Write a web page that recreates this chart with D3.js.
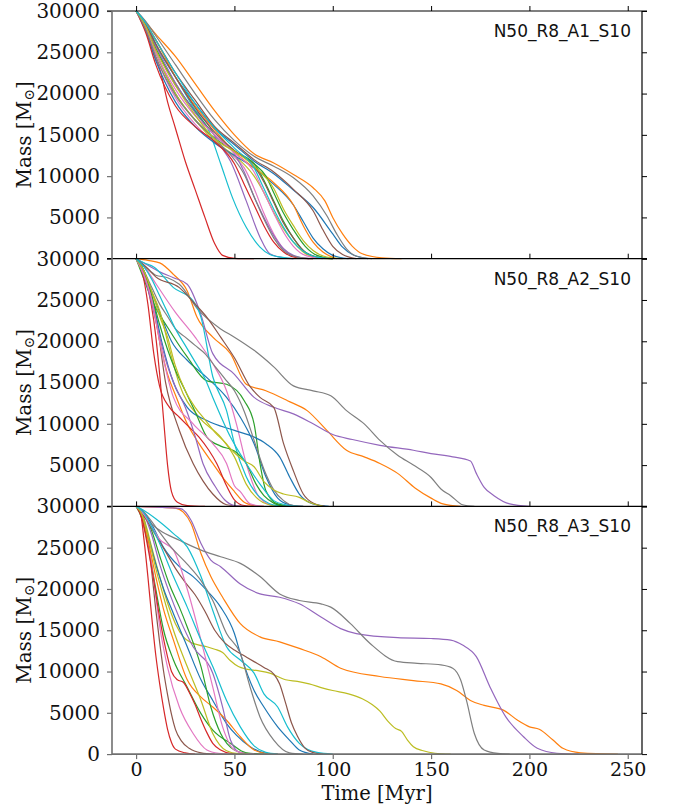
<!DOCTYPE html>
<html>
<head>
<meta charset="utf-8">
<script src="https://cdn.jsdelivr.net/npm/d3@7"></script>
<style>
  body { margin: 0; background: #fff; }
  svg { display: block; }
</style>
</head>
<body>
<div id="chart"></div>
<script>
// ---- data: [time Myr, mass Msun] ----

const runLabels = ["N50_R8_A1_S10", "N50_R8_A2_S10", "N50_R8_A3_S10"];
const xTicks = [0, 50, 100, 150, 200, 250];
const yTicks = [0, 5000, 10000, 15000, 20000, 25000, 30000];

// A1
const a1_blue1   = [[0,30000],[5,28600],[10,26000],[20,22000],[30,18800],[40,15800],[50,13800],[60,11800],[70,10300],[80,8300],[90,6200],[100,3000],[105,1400],[110,500],[118,0]];
const a1_orange1 = [[0,30000],[5,28600],[10,27200],[20,24500],[30,21200],[40,17900],[50,15000],[60,12700],[70,11600],[80,10200],[90,8600],[96,7000],[100,5000],[105,3000],[110,1500],[115,600],[125,100],[135,0]];
const a1_green1  = [[0,30000],[5,28000],[10,25000],[20,20000],[30,16800],[40,14600],[50,13000],[60,11500],[65,9500],[70,7000],[75,4500],[80,2500],[85,1000],[92,200],[100,0]];
const a1_red1    = [[0,30000],[4,28500],[8,25500],[12,23000],[16,19000],[20,15800],[25,11800],[30,8400],[35,5000],[40,1800],[44,400],[50,50],[60,0]];
const a1_purple1 = [[0,30000],[5,28300],[10,25500],[20,21000],[30,18000],[36,16500],[42,14000],[48,11800],[56,7000],[63,2600],[68,600],[75,100],[80,0]];
const a1_brown1  = [[0,30000],[5,28500],[10,26500],[20,22500],[30,19200],[40,16000],[50,14000],[60,12000],[70,10500],[80,8400],[90,5800],[95,3500],[100,1500],[105,500],[112,0]];
const a1_pink1   = [[0,30000],[5,27800],[10,24500],[20,19500],[30,16300],[40,14000],[50,12300],[55,11000],[60,8500],[65,5500],[70,3000],[75,1200],[80,300],[88,0]];
const a1_gray1   = [[0,30000],[5,28700],[10,27000],[20,23500],[30,20000],[40,16800],[50,14300],[60,12400],[70,11200],[80,9800],[90,7600],[97,5200],[102,3000],[107,1200],[112,300],[120,0]];
const a1_olive1  = [[0,30000],[5,28000],[10,25000],[20,20000],[30,16800],[40,14200],[50,12500],[60,10000],[65,8000],[70,5600],[75,3600],[80,2000],[85,800],[92,100],[100,0]];
const a1_cyan1   = [[0,30000],[5,28400],[10,26000],[20,22000],[30,18000],[37,15500],[43,11500],[49,7400],[56,3800],[63,1400],[68,500],[72,250],[80,0]];
const a1_blue2   = [[0,30000],[5,27500],[10,24000],[20,19000],[30,16000],[40,14000],[50,12500],[60,11000],[70,9000],[80,6500],[85,4500],[90,2500],[95,1200],[100,400],[108,0]];
const a1_orange2 = [[0,30000],[5,28400],[10,26500],[20,22000],[30,18500],[40,15600],[50,12900],[60,11000],[70,9200],[80,6500],[85,4000],[90,2000],[95,800],[102,0]];
const a1_green2  = [[0,30000],[5,28100],[10,25500],[20,21200],[30,17800],[40,15000],[50,13000],[60,11500],[66,10000],[70,8000],[75,5500],[80,3500],[86,1500],[92,400],[100,0]];
const a1_red2    = [[0,30000],[5,27300],[10,23500],[20,18500],[30,16000],[40,14200],[50,11500],[55,9000],[60,6500],[65,4000],[70,2000],[75,800],[82,100],[90,0]];
const a1_purple2 = [[0,30000],[5,28200],[10,25800],[20,21300],[30,17700],[40,14900],[50,12700],[55,10500],[60,7500],[65,5000],[70,2800],[75,1200],[80,400],[88,0]];
const a1_brown2  = [[0,30000],[5,28300],[10,26000],[20,22000],[30,18300],[40,15300],[50,13100],[60,11200],[65,9300],[70,6800],[75,4300],[80,2500],[85,1000],[92,200],[100,0]];
const a1_pink2   = [[0,30000],[5,28000],[10,25000],[20,20500],[30,17300],[40,15000],[50,12800],[60,10500],[65,8000],[70,5500],[75,3200],[80,1500],[86,400],[95,0]];
const a1_gray2   = [[0,30000],[5,27700],[10,24500],[20,19800],[30,16800],[40,14500],[50,12000],[55,10200],[60,7500],[65,4800],[70,2500],[75,1000],[82,200],[90,0]];
const a1_olive2  = [[0,30000],[5,28100],[10,25300],[20,21000],[30,17400],[40,14500],[50,13000],[60,11200],[70,8500],[75,6000],[80,4000],[85,2200],[90,1000],[97,200],[105,0]];
const a1_cyan2   = [[0,30000],[5,28500],[10,26500],[20,22500],[30,18800],[40,15800],[50,13400],[60,11000],[65,8500],[70,6000],[75,3800],[80,2000],[85,900],[92,200],[100,0]];

// A2
const a2_blue1   = [[0,30000],[4,28500],[8,26000],[12,23500],[18,20000],[26,17700],[36,15600],[46,13200],[53,10800],[60,7600],[66,3600],[72,1000],[78,200],[85,0]];
const a2_orange1 = [[0,30000],[6,29800],[12,29500],[19,28100],[26,26100],[31,22900],[39,20500],[48,18500],[56,14800],[66,14000],[77,12800],[87,11600],[97,9200],[107,6800],[116,6000],[124,5200],[133,4000],[142,2200],[150,1000],[156,300],[165,0]];
const a2_green1  = [[0,30000],[4,27500],[9,24500],[16,21700],[26,18100],[36,15200],[46,14800],[55,12800],[60,10000],[63,5200],[66,1900],[72,300],[80,0]];
const a2_red1    = [[0,30000],[3,29000],[6,26500],[9,22500],[12,16000],[14,10500],[16,5000],[18,1800],[21,500],[26,100],[35,0]];
const a2_purple1 = [[0,30000],[6,29200],[12,28400],[19,27700],[26,26900],[33,23200],[39,18500],[50,16000],[60,13200],[70,12000],[80,11200],[90,10000],[100,8700],[110,8100],[124,7400],[141,6800],[150,6400],[161,6000],[170,5500],[173,4000],[177,2300],[182,1300],[190,300],[200,0]];
const a2_brown1  = [[0,30000],[3,28500],[6,26500],[10,23000],[15,15000],[22,9200],[29,5200],[34,3100],[39,1500],[46,200],[55,0]];
const a2_pink1   = [[0,30000],[5,28800],[10,27000],[20,23500],[30,20500],[39,17300],[46,14000],[51,10000],[56,5200],[63,1000],[70,100],[78,0]];
const a2_gray1   = [[0,30000],[5,29000],[10,28000],[16,27700],[22,26900],[32,23700],[43,21500],[50,20500],[60,18900],[70,16900],[80,14600],[90,14000],[99,13400],[107,11600],[116,10000],[124,8000],[133,6200],[141,5000],[150,3500],[155,2100],[160,1300],[166,200],[172,0]];
const a2_olive1  = [[0,30000],[4,28000],[8,26000],[12,23700],[17,19000],[22,14800],[32,10800],[43,8400],[50,6000],[56,2700],[63,700],[70,100],[78,0]];
const a2_cyan1   = [[0,30000],[4,29500],[9,29000],[19,26500],[29,24900],[33,22900],[39,15700],[46,11600],[50,7600],[56,3600],[63,1100],[72,100],[80,0]];
const a2_blue2   = [[0,30000],[4,28500],[8,25500],[13,20000],[19,15000],[26,12000],[36,10400],[50,9200],[60,8400],[66,7600],[73,6000],[78,3600],[83,1500],[90,300],[98,0]];
const a2_orange2 = [[0,30000],[4,28500],[8,25000],[12,20000],[16,16000],[20,13500],[26,10000],[32,7600],[39,5200],[45,3200],[50,1800],[55,500],[60,100],[65,0]];
const a2_green2  = [[0,30000],[4,28500],[8,25500],[12,22000],[16,19000],[20,16500],[25,14000],[30,11500],[36,8400],[43,7300],[50,6700],[56,5200],[61,2700],[65,1300],[70,400],[76,0]];
const a2_red2    = [[0,30000],[3,28500],[6,24500],[9,18500],[12,14500],[17,12000],[22,10800],[27,9600],[32,8400],[37,6800],[41,5200],[46,2500],[50,800],[55,100],[60,0]];
const a2_purple2 = [[0,30000],[4,28000],[8,24500],[12,20500],[16,17000],[20,14500],[25,12000],[30,8500],[34,5200],[40,2500],[45,800],[50,100],[55,0]];
const a2_brown2  = [[0,30000],[5,29000],[10,27800],[22,26500],[30,24500],[36,22900],[43,20500],[50,18000],[58,14500],[63,13200],[70,12000],[75,7600],[80,4300],[85,1500],[90,400],[96,0]];
const a2_pink2   = [[0,30000],[4,28000],[8,25000],[12,20000],[19,13200],[29,10000],[39,7600],[46,5200],[50,2500],[53,1800],[58,300],[65,0]];
const a2_gray2   = [[0,30000],[4,28500],[8,26500],[12,24500],[16,23000],[20,21500],[25,20500],[30,19500],[35,18500],[40,17000],[45,15500],[50,14000],[55,11500],[60,8000],[65,4500],[70,2000],[75,700],[80,100],[85,0]];
const a2_olive2  = [[0,30000],[4,28500],[8,26000],[12,23000],[16,20500],[20,17000],[25,14000],[30,12000],[35,10500],[40,9000],[45,7800],[50,6500],[55,5500],[60,4800],[65,3000],[70,2000],[75,1500],[83,1100],[88,500],[95,0]];
const a2_cyan2   = [[0,30000],[4,29000],[8,27500],[12,25500],[16,23500],[20,21500],[25,19500],[30,17500],[35,15500],[39,13200],[48,8400],[56,5200],[63,2700],[70,700],[76,200],[82,0]];

// A3
const a3_blue1   = [[0,30000],[4,29300],[8,27800],[14,25000],[22,22700],[29,21500],[36,19800],[43,17800],[50,14600],[53,12200],[60,7700],[65,5700],[72,3300],[78,1700],[83,500],[90,0]];
const a3_orange1 = [[0,30000],[10,29900],[20,29800],[24,29300],[28,27900],[33,24300],[38,21500],[44,19000],[53,15800],[63,14200],[73,13600],[83,12800],[94,11800],[104,10400],[124,9400],[141,8900],[155,8500],[163,7700],[170,6500],[177,5900],[187,5300],[194,4100],[200,3300],[205,3000],[212,1700],[217,700],[226,160],[245,0]];
const a3_green1  = [[0,30000],[3,28500],[6,25500],[10,20000],[14,15000],[19,11400],[26,8100],[33,4900],[39,2900],[48,1300],[56,150],[65,0]];
const a3_red1    = [[0,30000],[2,29500],[4,26000],[6,21500],[8,16500],[10,12000],[12,8500],[14,5500],[16,3000],[18,1400],[20,600],[25,150],[30,0]];
const a3_purple1 = [[0,30000],[10,29900],[20,29800],[23,29700],[28,28300],[33,25500],[38,23500],[43,22700],[53,20600],[63,19400],[73,19000],[83,18200],[94,16600],[104,15200],[112,14600],[133,14100],[150,14000],[160,13800],[166,13200],[173,11800],[180,8100],[188,4500],[197,2100],[204,700],[214,100],[225,0]];
const a3_brown1  = [[0,30000],[2,29700],[4,28500],[6,26000],[8,22000],[10,17500],[12,13500],[14,10000],[16,7200],[18,4800],[20,3000],[23,1600],[27,700],[33,150],[40,0]];
const a3_pink1   = [[0,30000],[3,29000],[6,26000],[9,21000],[12,15500],[16,10500],[22,5700],[29,2500],[36,500],[42,100],[48,0]];
const a3_gray1   = [[0,30000],[5,28500],[12,27100],[22,25900],[33,24700],[43,23900],[53,23100],[63,21500],[73,19400],[83,18600],[94,18200],[99,17800],[109,15800],[119,13400],[133,11200],[143,11000],[155,10800],[161,10400],[165,9000],[168,6500],[172,2500],[177,500],[184,80],[190,0]];
const a3_olive1  = [[0,30000],[4,28500],[8,25000],[12,21500],[16,18300],[20,15800],[24,14200],[28,13500],[32,13200],[36,13000],[40,12700],[44,12300],[48,11300],[52,10600],[56,10300],[62,10100],[68,9800],[72,9400],[76,9000],[82,8800],[88,8500],[95,8000],[100,7700],[108,7300],[115,6700],[120,6000],[124,5200],[128,4000],[132,3100],[135,2750],[138,1700],[141,900],[146,400],[152,100],[160,0]];
const a3_cyan1   = [[0,30000],[4,29500],[10,28500],[19,26700],[26,25100],[33,21500],[39,17400],[46,13000],[53,11400],[60,9800],[65,7300],[72,5700],[77,3300],[83,1300],[92,200],[100,0]];
const a3_blue2   = [[0,30000],[3,29000],[6,26500],[10,23000],[14,20000],[19,17000],[26,13000],[33,9000],[39,6500],[46,3700],[51,2300],[58,900],[66,100],[72,0]];
const a3_orange2 = [[0,30000],[3,29000],[6,26000],[10,21500],[14,17500],[19,13800],[26,9000],[33,6900],[39,5700],[46,4100],[53,2100],[60,500],[66,100],[72,0]];
const a3_green2  = [[0,30000],[4,29000],[8,27000],[12,24000],[17,20500],[22,17800],[26,15400],[33,10600],[38,5700],[43,2500],[50,500],[56,100],[62,0]];
const a3_red2    = [[0,30000],[3,28500],[6,25000],[9,21000],[12,16500],[15,12800],[18,10000],[21,9000],[24,8700],[27,7500],[30,6000],[33,4200],[36,2600],[39,1300],[43,500],[48,100],[55,0]];
const a3_purple2 = [[0,30000],[4,29000],[8,26500],[12,23000],[17,19500],[22,16500],[29,13000],[39,9800],[44,5700],[48,1700],[53,150],[60,0]];
const a3_brown2  = [[0,30000],[5,28500],[10,26500],[15,24500],[20,22500],[25,20800],[30,19300],[35,17300],[40,15000],[45,13500],[50,12600],[55,11900],[60,11200],[65,10500],[70,9700],[73,8500],[76,6200],[79,3800],[82,2200],[86,700],[90,200],[95,0]];
const a3_pink2   = [[0,30000],[4,29000],[8,27500],[12,26000],[19,24700],[26,20000],[33,13800],[39,8100],[44,3300],[50,500],[55,100],[60,0]];
const a3_gray2   = [[0,30000],[4,29300],[10,27500],[18,25000],[26,23000],[33,21000],[39,18600],[46,14600],[53,12200],[58,8100],[63,4500],[70,1700],[78,150],[85,0]];
const a3_olive2  = [[0,30000],[3,29000],[6,26500],[10,22500],[14,19000],[19,15000],[26,10600],[33,6500],[39,2500],[46,400],[52,50],[58,0]];
const a3_cyan2   = [[0,30000],[4,29200],[8,27500],[12,25500],[19,21500],[26,17800],[33,13800],[39,10600],[46,6500],[53,3300],[60,1000],[66,200],[72,0]];

const panelA1 = [a1_blue1, a1_orange1, a1_green1, a1_red1, a1_purple1, a1_brown1, a1_pink1, a1_gray1, a1_olive1, a1_cyan1,
                 a1_blue2, a1_orange2, a1_green2, a1_red2, a1_purple2, a1_brown2, a1_pink2, a1_gray2, a1_olive2, a1_cyan2];
const panelA2 = [a2_blue1, a2_orange1, a2_green1, a2_red1, a2_purple1, a2_brown1, a2_pink1, a2_gray1, a2_olive1, a2_cyan1,
                 a2_blue2, a2_orange2, a2_green2, a2_red2, a2_purple2, a2_brown2, a2_pink2, a2_gray2, a2_olive2, a2_cyan2];
const panelA3 = [a3_blue1, a3_orange1, a3_green1, a3_red1, a3_purple1, a3_brown1, a3_pink1, a3_gray1, a3_olive1, a3_cyan1,
                 a3_blue2, a3_orange2, a3_green2, a3_red2, a3_purple2, a3_brown2, a3_pink2, a3_gray2, a3_olive2, a3_cyan2];
const panels = [panelA1, panelA2, panelA3];

// ---- layout ----
const W = 676, H = 806;
const plotLeft = 112, plotRight = 642, plotTop = 11, panelH = 247.7;
const spineGray = "#707070";
const serif = "DejaVu Serif", sans = "DejaVu Sans";

const svg = d3.select("#chart").append("svg")
    .attr("width", W)
    .attr("height", H);

const x = d3.scaleLinear().domain([-12.25, 257.25]).range([plotLeft, plotRight]);
const color = d3.scaleOrdinal().domain(d3.range(10)).range(d3.schemeCategory10);

panels.forEach(function(series, i) {
    const y0 = plotTop + i * panelH, y1 = y0 + panelH;
    const last = i === panels.length - 1;
    const y = d3.scaleLinear().domain([0, 30000]).range([y1, y0]);
    const g = svg.append("g");

    // lines
    const line = d3.line()
        .x(d => x(d[0]))
        .y(d => y(d[1]))
        .curve(d3.curveMonotoneX);

    g.selectAll("path.run")
        .data(series)
        .enter()
        .append("path")
        .attr("class", "run")
        .attr("d", line)
        .attr("fill", "none")
        .attr("stroke", (d, k) => color(k % 10))
        .attr("stroke-width", 1.2);

    // left axis (gray)
    const ya = g.append("g")
        .attr("transform", `translate(${plotLeft},0)`)
        .call(d3.axisLeft(y).tickValues(yTicks).tickSize(5).tickSizeOuter(0).tickPadding(7)
            .tickFormat(v => (v === 0 && !last) ? "" : d3.format("d")(v)));
    ya.select(".domain").remove();
    ya.selectAll(".tick line").attr("stroke", spineGray).attr("stroke-width", 1.2);
    ya.selectAll(".tick text").attr("fill", "#111").attr("font-family", serif).attr("font-size", 20);

    // right axis (black, no labels)
    const yr = g.append("g")
        .attr("transform", `translate(${plotRight},0)`)
        .call(d3.axisRight(y).tickValues(yTicks).tickSize(5).tickSizeOuter(0).tickFormat(""));
    yr.select(".domain").remove();
    yr.selectAll(".tick line").attr("stroke", "#000");

    // top ticks (black)
    const xt = g.append("g")
        .attr("transform", `translate(0,${y0})`)
        .call(d3.axisTop(x).tickValues(xTicks).tickSize(5).tickSizeOuter(0).tickFormat(""));
    xt.select(".domain").remove();
    xt.selectAll(".tick line").attr("stroke", "#000");

    // top spine
    g.append("line")
        .attr("x1", plotLeft - 5).attr("x2", plotRight + 5)
        .attr("y1", y0).attr("y2", y0)
        .attr("stroke", "#000").attr("stroke-width", 1.2);

    if (last) {
        const xb = g.append("g")
            .attr("transform", `translate(0,${y1})`)
            .call(d3.axisBottom(x).tickValues(xTicks).tickSize(5).tickSizeOuter(0).tickPadding(3));
        xb.select(".domain").remove();
        xb.selectAll(".tick line").attr("stroke", spineGray).attr("stroke-width", 1.2);
        xb.selectAll(".tick text").attr("fill", "#111").attr("font-family", serif).attr("font-size", 19);

        g.append("line")
            .attr("x1", plotLeft).attr("x2", plotRight)
            .attr("y1", y1).attr("y2", y1)
            .attr("stroke", spineGray).attr("stroke-width", 1.6);
    }

    // run label
    g.append("text")
        .attr("x", 631)
        .attr("y", y0 + 26)
        .attr("text-anchor", "end")
        .attr("font-family", sans)
        .attr("font-size", 17)
        .attr("fill", "#111")
        .text(runLabels[i]);

    // y label
    const yl = g.append("text")
        .attr("transform", `translate(31,${(y0 + y1) / 2}) rotate(-90)`)
        .attr("text-anchor", "middle")
        .attr("font-family", serif)
        .attr("font-size", 20)
        .attr("fill", "#111");
    yl.append("tspan").text("Mass [M");
    yl.append("tspan").attr("font-size", 14).attr("dy", 3).text("⊙");
    yl.append("tspan").attr("dy", -3).text("]");
});

// spines left / right spanning all panels
svg.append("line")
    .attr("x1", plotLeft).attr("x2", plotLeft)
    .attr("y1", plotTop).attr("y2", plotTop + 3 * panelH)
    .attr("stroke", spineGray).attr("stroke-width", 1.6);
svg.append("line")
    .attr("x1", plotRight).attr("x2", plotRight)
    .attr("y1", plotTop).attr("y2", plotTop + 3 * panelH)
    .attr("stroke", "#000").attr("stroke-width", 1.2);

// x label
svg.append("text")
    .attr("x", (plotLeft + plotRight) / 2)
    .attr("y", 800)
    .attr("text-anchor", "middle")
    .attr("font-family", serif)
    .attr("font-size", 19.5)
    .attr("fill", "#111")
    .text("Time [Myr]");
</script>
</body>
</html>
